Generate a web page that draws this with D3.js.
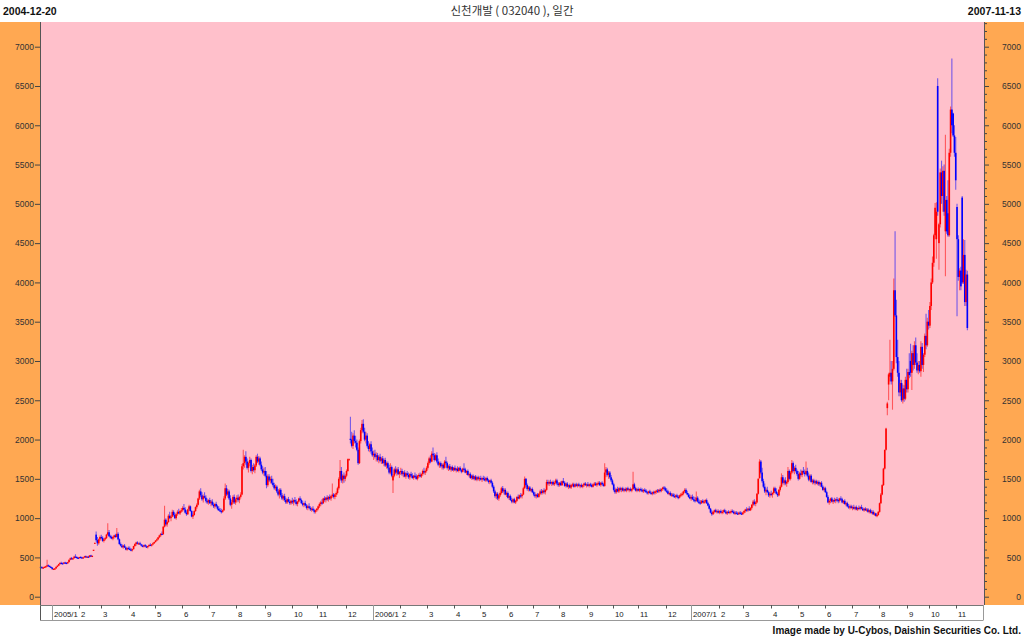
<!DOCTYPE html>
<html><head><meta charset="utf-8">
<script src="https://cdn.jsdelivr.net/npm/d3@7"></script>
<style>body{margin:0;background:#fff}svg{display:block}</style>
</head><body><svg id="c" width="1024" height="638"></svg>
<script>
// Daily bars [open, high, low, close], one array per month
const d2004_12=[[380,390,370,375],[375,385,365,370],[370,380,360,372],[372,385,365,380],[380,395,372,388],[388,470,380,400],[400,410,385,392],[392,398,375,380],[380,385,365,370]];
const d2005_01=[[370,375,345,350],[350,360,340,355],[355,365,345,360],[360,385,355,380],[380,400,375,395],[395,420,390,415],[415,440,410,430],[430,445,420,425],[425,435,415,420],[420,440,415,435],[435,445,425,430],[430,440,420,425],[425,445,420,440],[440,475,435,470],[470,500,465,490],[490,505,475,480],[480,495,470,490],[490,520,485,510],[510,540,500,505],[505,515,490,495],[495,505,485,490]];
const d2005_02=[[490,510,485,505],[505,515,495,500],[500,510,490,495],[495,505,488,500],[500,520,495,515],[515,525,500,505],[505,515,495,510],[510,520,500,505],[505,530,500,525],[525,535,510,515],[515,525,505,520],[598,598,598,598],[687,687,687,687],[790,830,700,720],[720,760,650,680],[680,740,660,730],[730,780,710,760]];
const d2005_03=[[760,790,730,750],[750,770,700,710],[710,740,690,730],[730,760,715,745],[745,800,735,790],[790,936,780,820],[820,850,760,770],[770,790,740,760],[760,780,730,740],[740,770,720,760],[760,790,740,780],[780,800,750,760],[760,873,755,800],[800,820,720,730],[730,740,660,670],[670,690,640,650],[650,670,620,630],[630,660,610,650],[650,670,620,625],[625,640,590,600],[600,630,585,620],[620,640,600,610]];
const d2005_04=[[610,640,590,600],[600,620,580,590],[590,610,575,605],[605,650,600,645],[645,680,635,670],[670,700,650,690],[690,705,665,675],[675,690,660,680],[680,700,660,665],[665,675,640,650],[650,665,630,640],[640,660,625,655],[655,670,635,640],[640,655,620,630],[630,650,615,645],[645,665,635,660],[660,680,645,650],[650,670,640,665],[665,690,655,680],[680,700,670,695]];
const d2005_05=[[695,720,690,715],[715,740,705,730],[730,760,720,755],[755,790,745,780],[780,810,760,800],[800,830,785,795],[795,900,790,890],[890,1157,880,980],[980,1000,900,920],[920,960,890,950],[950,1050,940,1030],[1030,1080,990,1000],[1000,1040,960,1020],[1020,1106,1010,1080],[1080,1100,1020,1040],[1040,1070,990,1000],[1000,1060,980,1050],[1050,1100,1030,1080],[1080,1120,1050,1060],[1060,1100,1040,1090],[1090,1130,1070,1100]];
const d2005_06=[[1100,1150,1080,1130],[1130,1180,1100,1110],[1110,1140,1060,1070],[1070,1100,1030,1050],[1050,1120,1040,1110],[1110,1170,1090,1150],[1150,1160,1080,1090],[1090,1100,1010,1020],[1020,1060,990,1040],[1040,1100,1030,1090],[1090,1150,1080,1140],[1140,1190,1120,1170],[1170,1260,1160,1250],[1250,1360,1230,1340],[1340,1380,1270,1290],[1290,1330,1220,1240],[1240,1300,1200,1280],[1280,1330,1250,1260],[1260,1290,1200,1220],[1220,1250,1180,1200],[1200,1240,1170,1230]];
const d2005_07=[[1230,1260,1180,1190],[1190,1230,1150,1210],[1210,1240,1160,1170],[1170,1200,1130,1150],[1150,1190,1120,1180],[1180,1210,1140,1150],[1150,1170,1100,1120],[1120,1150,1090,1100],[1100,1130,1080,1090],[1090,1120,1060,1080],[1080,1110,1070,1100],[1100,1280,1090,1250],[1250,1440,1230,1380],[1380,1420,1280,1300],[1300,1370,1260,1340],[1340,1360,1230,1250],[1250,1290,1150,1170],[1170,1230,1120,1200],[1200,1290,1180,1270],[1270,1300,1180,1200],[1200,1260,1170,1240]];
const d2005_08=[[1240,1290,1200,1260],[1260,1300,1210,1230],[1230,1280,1190,1270],[1270,1330,1250,1300],[1300,1690,1290,1660],[1660,1870,1620,1700],[1700,1800,1640,1780],[1780,1850,1680,1720],[1720,1760,1620,1640],[1640,1720,1580,1700],[1700,1780,1660,1740],[1740,1760,1580,1600],[1600,1680,1560,1650],[1650,1700,1590,1610],[1610,1690,1570,1670],[1670,1800,1650,1780],[1780,1820,1700,1720],[1720,1790,1680,1760],[1760,1780,1660,1680],[1680,1720,1600,1620],[1620,1660,1560,1580],[1580,1640,1540,1600]];
const d2005_09=[[1600,1650,1520,1540],[1540,1600,1380,1420],[1420,1560,1400,1530],[1530,1560,1460,1480],[1480,1530,1440,1500],[1500,1540,1430,1450],[1450,1500,1400,1420],[1420,1450,1360,1380],[1380,1430,1350,1400],[1400,1420,1320,1340],[1340,1370,1280,1300],[1300,1380,1250,1360],[1360,1380,1270,1290],[1290,1320,1230,1250],[1250,1300,1220,1280],[1280,1310,1210,1230],[1230,1260,1180,1200],[1200,1250,1180,1240],[1240,1270,1200,1210],[1210,1240,1170,1190],[1190,1230,1170,1220]];
const d2005_10=[[1220,1260,1180,1200],[1200,1240,1160,1230],[1230,1270,1190,1210],[1210,1240,1160,1180],[1180,1220,1150,1210],[1210,1260,1200,1250],[1250,1280,1220,1230],[1230,1250,1180,1190],[1190,1220,1150,1170],[1170,1200,1140,1190],[1190,1220,1150,1160],[1160,1180,1110,1130],[1130,1170,1100,1150],[1150,1190,1120,1130],[1130,1150,1090,1110],[1110,1140,1080,1120],[1120,1150,1090,1100],[1100,1120,1060,1080],[1080,1110,1060,1100],[1100,1130,1080,1120]];
const d2005_11=[[1120,1160,1100,1150],[1150,1200,1130,1180],[1180,1220,1150,1200],[1200,1240,1170,1190],[1190,1260,1180,1250],[1250,1280,1210,1230],[1230,1270,1200,1260],[1260,1290,1220,1240],[1240,1280,1210,1270],[1270,1300,1230,1250],[1250,1290,1220,1280],[1280,1440,1260,1300],[1300,1320,1250,1270],[1270,1310,1240,1300],[1300,1340,1270,1320],[1320,1400,1300,1380],[1380,1520,1360,1500],[1500,1740,1480,1600],[1600,1650,1450,1480],[1480,1560,1440,1540],[1540,1580,1450,1500],[1500,1560,1470,1540]];
const d2005_12=[[1540,1620,1520,1600],[1600,1760,1590,1750],[1750,1760,1740,1750],[2010,2290,1950,2000],[2000,2100,1900,1920],[1920,2080,1880,2050],[2050,2120,1950,1980],[1980,2050,1900,1960],[1960,2000,1850,1870],[1870,1900,1680,1700],[1700,2000,1690,1980],[1980,2150,1950,2120],[2120,2250,2080,2200],[2200,2260,2080,2100],[2100,2150,1980,2000],[2000,2100,1950,2050],[2050,2080,1900,1920],[1920,1980,1850,1880],[1880,1960,1840,1940],[1940,1980,1820,1850],[1850,1900,1780,1800]];
const d2006_01=[[1800,1860,1740,1820],[1820,1870,1760,1780],[1780,1840,1720,1800],[1800,1830,1720,1740],[1740,1800,1700,1780],[1780,1820,1710,1730],[1730,1780,1690,1760],[1760,1790,1690,1700],[1700,1760,1660,1740],[1740,1770,1650,1670],[1670,1720,1630,1700],[1700,1720,1620,1640],[1640,1680,1560,1580],[1580,1700,1560,1650],[1650,1670,1520,1540],[1480,1560,1320,1540],[1540,1640,1520,1620],[1620,1660,1560,1580],[1580,1640,1540,1620],[1620,1650,1550,1560],[1560,1600,1510,1590]];
const d2006_02=[[1590,1640,1550,1600],[1600,1630,1540,1560],[1560,1600,1520,1580],[1580,1610,1520,1530],[1530,1580,1500,1570],[1570,1600,1530,1550],[1550,1580,1500,1520],[1520,1570,1490,1560],[1560,1590,1520,1540],[1540,1570,1500,1510],[1510,1550,1490,1540],[1540,1580,1510,1530],[1530,1560,1490,1500],[1500,1550,1480,1540],[1540,1570,1510,1550],[1550,1580,1520,1530],[1530,1570,1510,1560],[1560,1620,1540,1600],[1600,1640,1560,1580],[1580,1620,1550,1600],[1600,1660,1580,1640]];
const d2006_03=[[1640,1720,1620,1700],[1700,1780,1680,1760],[1760,1800,1700,1720],[1720,1850,1710,1820],[1820,1900,1780,1800],[1800,1830,1720,1740],[1740,1820,1730,1800],[1800,1840,1700,1720],[1720,1760,1660,1680],[1680,1720,1640,1700],[1700,1720,1640,1660],[1660,1700,1620,1680],[1680,1700,1620,1640],[1640,1740,1630,1720],[1720,1780,1680,1700],[1700,1720,1620,1640],[1640,1680,1600,1660],[1660,1690,1610,1620],[1620,1660,1590,1650],[1650,1670,1600,1610],[1610,1650,1590,1640]];
const d2006_04=[[1640,1670,1600,1610],[1610,1640,1580,1630],[1630,1660,1590,1600],[1600,1650,1580,1640],[1640,1660,1600,1610],[1610,1630,1570,1590],[1590,1640,1580,1630],[1630,1700,1610,1620],[1620,1640,1570,1580],[1580,1610,1550,1600],[1600,1620,1540,1550],[1550,1580,1520,1560],[1560,1580,1500,1510],[1510,1550,1490,1540],[1540,1560,1490,1500],[1500,1540,1480,1530],[1530,1550,1480,1490],[1490,1530,1470,1520],[1520,1540,1480,1500],[1500,1530,1470,1510]];
const d2006_05=[[1510,1540,1480,1490],[1490,1520,1460,1510],[1510,1540,1480,1500],[1500,1530,1470,1480],[1480,1520,1460,1510],[1510,1530,1470,1480],[1480,1500,1440,1460],[1460,1490,1430,1480],[1480,1500,1440,1450],[1450,1470,1380,1400],[1400,1420,1320,1340],[1340,1360,1260,1280],[1280,1330,1240,1310],[1310,1330,1230,1250],[1250,1300,1220,1290],[1290,1340,1270,1320],[1320,1400,1300,1380],[1380,1410,1320,1340],[1340,1380,1300,1360],[1360,1380,1290,1300],[1300,1340,1270,1320]];
const d2006_06=[[1320,1340,1250,1260],[1260,1300,1230,1280],[1280,1300,1220,1230],[1230,1260,1190,1210],[1210,1250,1190,1240],[1240,1260,1190,1200],[1200,1230,1180,1220],[1220,1280,1210,1270],[1270,1300,1240,1250],[1250,1300,1240,1290],[1290,1320,1260,1280],[1280,1310,1250,1300],[1300,1400,1290,1380],[1380,1530,1370,1500],[1500,1510,1400,1420],[1420,1440,1350,1370],[1370,1410,1340,1390],[1390,1410,1340,1350],[1350,1380,1330,1370],[1370,1390,1320,1330]];
const d2006_07=[[1330,1350,1280,1300],[1300,1330,1260,1280],[1280,1310,1250,1300],[1300,1320,1260,1270],[1270,1320,1260,1310],[1310,1360,1290,1340],[1340,1370,1300,1320],[1320,1360,1300,1350],[1350,1380,1310,1330],[1330,1370,1300,1360],[1360,1490,1350,1460],[1460,1490,1420,1440],[1440,1480,1410,1460],[1460,1490,1430,1440],[1440,1470,1410,1460],[1460,1480,1420,1430],[1430,1470,1410,1450],[1450,1500,1430,1480],[1480,1500,1420,1440],[1440,1460,1400,1420]];
const d2006_08=[[1420,1460,1400,1450],[1450,1470,1410,1420],[1420,1480,1410,1470],[1470,1510,1440,1450],[1450,1470,1400,1410],[1410,1450,1390,1440],[1440,1460,1390,1400],[1400,1430,1370,1420],[1420,1440,1380,1390],[1390,1430,1370,1420],[1420,1450,1400,1430],[1430,1450,1390,1400],[1400,1440,1390,1430],[1430,1450,1400,1410],[1410,1440,1390,1430],[1430,1450,1400,1410],[1410,1430,1380,1420],[1420,1440,1390,1400],[1400,1430,1380,1420],[1420,1450,1400,1440],[1440,1460,1410,1420],[1420,1440,1390,1430]];
const d2006_09=[[1430,1460,1400,1410],[1410,1440,1390,1430],[1430,1450,1400,1420],[1420,1440,1390,1400],[1400,1440,1390,1430],[1430,1460,1410,1440],[1440,1460,1410,1420],[1420,1450,1400,1440],[1440,1470,1420,1450],[1450,1470,1410,1420],[1420,1460,1400,1450],[1450,1470,1420,1430],[1430,1450,1400,1410],[1410,1700,1400,1580],[1580,1650,1520,1620],[1620,1640,1530,1550],[1550,1600,1500,1580],[1580,1600,1500,1520],[1520,1550,1460,1480],[1480,1500,1420,1430]];
const d2006_10=[[1430,1450,1340,1360],[1360,1390,1310,1330],[1330,1380,1310,1370],[1370,1400,1330,1340],[1340,1390,1320,1380],[1380,1400,1340,1360],[1360,1390,1330,1380],[1380,1400,1340,1350],[1350,1380,1330,1370],[1370,1390,1340,1350],[1350,1390,1330,1380],[1380,1400,1350,1360],[1360,1380,1330,1370],[1370,1390,1340,1350],[1350,1380,1330,1370],[1370,1590,1360,1430],[1430,1450,1360,1380],[1380,1400,1340,1350],[1350,1380,1330,1370]];
const d2006_11=[[1370,1390,1340,1350],[1350,1380,1330,1370],[1370,1390,1340,1360],[1360,1380,1330,1340],[1340,1370,1320,1360],[1360,1380,1330,1350],[1350,1370,1320,1330],[1330,1350,1300,1320],[1320,1350,1300,1340],[1340,1360,1310,1320],[1320,1340,1300,1310],[1310,1340,1290,1330],[1330,1350,1300,1320],[1320,1350,1300,1340],[1340,1360,1310,1350],[1350,1370,1320,1340],[1340,1370,1320,1360],[1360,1380,1330,1350],[1350,1380,1330,1370],[1370,1400,1350,1390],[1390,1410,1360,1380],[1380,1400,1340,1350]];
const d2006_12=[[1350,1380,1320,1340],[1340,1360,1300,1310],[1310,1340,1290,1320],[1320,1340,1280,1290],[1290,1320,1270,1300],[1300,1320,1270,1280],[1280,1310,1260,1270],[1270,1300,1250,1290],[1290,1310,1260,1270],[1270,1290,1240,1260],[1260,1300,1250,1290],[1290,1320,1270,1300],[1300,1330,1280,1310],[1310,1350,1290,1340],[1340,1380,1320,1360],[1360,1380,1310,1320],[1320,1350,1290,1300],[1300,1320,1260,1270],[1270,1300,1240,1250]];
const d2007_01=[[1250,1290,1220,1270],[1270,1300,1230,1240],[1240,1280,1210,1230],[1230,1270,1200,1220],[1220,1340,1210,1260],[1260,1280,1200,1210],[1210,1240,1180,1200],[1200,1230,1170,1190],[1190,1230,1180,1220],[1220,1240,1190,1200],[1200,1230,1180,1210],[1210,1240,1190,1230],[1230,1250,1180,1190],[1190,1210,1150,1160],[1160,1180,1110,1120],[1120,1130,1060,1070],[1070,1100,1030,1050],[1050,1090,1040,1080],[1080,1110,1060,1100],[1100,1120,1070,1080],[1080,1110,1060,1090],[1090,1110,1060,1070]];
const d2007_02=[[1070,1100,1050,1090],[1090,1110,1060,1070],[1070,1100,1050,1080],[1080,1110,1060,1100],[1100,1120,1070,1080],[1080,1100,1050,1060],[1060,1090,1040,1080],[1080,1100,1060,1070],[1070,1090,1050,1080],[1080,1110,1060,1090],[1090,1110,1070,1080],[1080,1100,1050,1060],[1060,1090,1040,1070],[1070,1090,1050,1060],[1060,1080,1040,1050],[1050,1080,1040,1070],[1070,1090,1050,1060],[1060,1080,1040,1050],[1050,1080,1040,1070]];
const d2007_03=[[1070,1100,1060,1090],[1090,1120,1070,1110],[1110,1140,1080,1100],[1100,1130,1080,1120],[1120,1150,1090,1100],[1100,1140,1090,1130],[1130,1180,1110,1170],[1170,1230,1150,1210],[1210,1240,1160,1180],[1180,1220,1150,1200],[1200,1320,1190,1310],[1310,1510,1300,1500],[1510,1750,1500,1720],[1720,1740,1560,1580],[1580,1640,1450,1470],[1470,1500,1380,1400],[1400,1440,1320,1340],[1340,1380,1290,1360],[1360,1400,1320,1330],[1330,1350,1270,1290],[1290,1330,1260,1310]];
const d2007_04=[[1310,1350,1280,1300],[1300,1330,1260,1320],[1320,1400,1300,1380],[1380,1400,1320,1340],[1340,1380,1300,1310],[1310,1330,1270,1290],[1290,1370,1280,1360],[1360,1420,1340,1400],[1400,1570,1390,1520],[1520,1550,1430,1450],[1450,1500,1420,1480],[1480,1520,1420,1440],[1440,1480,1400,1460],[1460,1650,1440,1600],[1600,1620,1480,1500],[1500,1600,1480,1580],[1580,1740,1560,1700],[1700,1720,1580,1600],[1600,1660,1560,1640],[1640,1680,1580,1600],[1600,1620,1540,1560]];
const d2007_05=[[1560,1600,1480,1500],[1500,1590,1490,1570],[1570,1620,1530,1550],[1550,1610,1520,1600],[1600,1650,1560,1580],[1580,1620,1530,1560],[1560,1720,1550,1600],[1600,1640,1520,1540],[1540,1580,1470,1490],[1490,1560,1470,1540],[1540,1560,1450,1460],[1460,1500,1430,1480],[1480,1500,1430,1450],[1450,1490,1420,1470],[1470,1490,1430,1440],[1440,1480,1420,1460],[1460,1480,1410,1430],[1430,1460,1400,1450],[1450,1470,1390,1400],[1400,1420,1350,1360],[1360,1400,1340,1380]];
const d2007_06=[[1380,1400,1320,1330],[1330,1350,1260,1270],[1270,1290,1190,1200],[1200,1240,1170,1220],[1220,1260,1190,1250],[1250,1270,1200,1210],[1210,1240,1180,1230],[1230,1260,1200,1220],[1220,1250,1190,1240],[1240,1270,1210,1230],[1230,1250,1190,1220],[1220,1260,1200,1250],[1250,1280,1220,1240],[1240,1260,1190,1200],[1200,1230,1180,1220],[1220,1240,1170,1180],[1180,1210,1150,1190],[1190,1210,1140,1150],[1150,1180,1120,1140],[1140,1170,1110,1150],[1150,1170,1120,1130]];
const d2007_07=[[1130,1160,1100,1140],[1140,1170,1110,1120],[1120,1150,1100,1140],[1140,1160,1100,1110],[1110,1140,1090,1130],[1130,1160,1110,1120],[1120,1150,1100,1140],[1140,1170,1110,1120],[1120,1140,1090,1100],[1100,1130,1080,1120],[1120,1140,1090,1100],[1100,1130,1080,1110],[1110,1130,1070,1080],[1080,1110,1060,1100],[1100,1120,1060,1070],[1070,1100,1050,1080],[1080,1100,1040,1050],[1050,1080,1030,1060],[1060,1070,1020,1030],[1030,1060,1010,1040],[1040,1090,1030,1080]];
const d2007_08=[[1080,1200,1070,1190],[1190,1320,1180,1300],[1300,1430,1290,1420],[1420,1640,1410,1630],[1630,1870,1620,1870],[1870,2150,1860,2140],[2400,2480,2310,2460],[2700,2850,2500,2830],[2800,3270,2740,2850],[2850,3000,2700,2740],[2740,3000,2380,2900],[2900,4050,2880,3900],[3900,4650,3560,3580],[3580,3780,2970,3050],[3050,3270,2800,2850],[2850,3000,2550,2600],[2600,2760,2550,2720],[2720,2760,2480,2500],[2500,2700,2460,2650],[2650,2690,2480,2520],[2520,2800,2500,2760],[2760,2900,2600,2640]];
const d2007_09=[[2640,2900,2600,2860],[2860,3100,2780,2820],[3000,3220,2800,2850],[2850,3130,2630,3100],[3100,3200,2880,2950],[2950,3250,2900,3200],[3200,3300,2950,2980],[2980,3100,2850,2880],[2880,3000,2830,2950],[2950,3000,2850,2870],[2870,3250,2800,3180],[3180,3230,2900,2950],[2950,3100,2860,3080],[3080,3350,3050,3320],[3320,3600,3150,3200],[3200,3550,3180,3500],[3500,3650,3400,3450]];
const d2007_10=[[3450,3750,3420,3700],[3700,4050,3650,4000],[4000,4330,3980,4250],[4250,4620,4200,4600],[4600,5010,4550,4950],[4550,5020,4300,4900],[6500,6600,4850,4900],[4500,4760,4160,4740],[4740,5450,4700,5400],[5400,5550,5000,5100],[5100,5480,4900,5420],[5420,5500,4850,4900],[4650,5880,4080,5050],[5050,5100,4620,4650],[4880,5300,4580,4600],[4600,5700,4580,5650],[5650,6240,5600,6200],[6200,6850,5900,6000],[6150,6160,5850,5870],[5870,6000,5600,5650],[5650,5850,5180,5300]];
const d2007_11=[[4960,5000,3570,4550],[4550,4600,4020,4070],[4070,4180,3900,4150],[4150,4200,3900,3950],[5080,5100,3980,4000],[4000,4550,3980,4350],[4350,4540,3700,3750],[3750,4160,3700,4100],[4100,4150,3390,3420]];

const monthBars=[d2004_12,d2005_01,d2005_02,d2005_03,d2005_04,d2005_05,d2005_06,d2005_07,d2005_08,d2005_09,d2005_10,d2005_11,d2005_12,
 d2006_01,d2006_02,d2006_03,d2006_04,d2006_05,d2006_06,d2006_07,d2006_08,d2006_09,d2006_10,d2006_11,d2006_12,
 d2007_01,d2007_02,d2007_03,d2007_04,d2007_05,d2007_06,d2007_07,d2007_08,d2007_09,d2007_10,d2007_11];
const monthLabels=["","2005/1","2","3","4","5","6","7","8","9","10","11","12",
 "2006/1","2","3","4","5","6","7","8","9","10","11","12",
 "2007/1","2","3","4","5","6","7","8","9","10","11"];
const yTicks=[0,500,1000,1500,2000,2500,3000,3500,4000,4500,5000,5500,6000,6500,7000];
const yMinor=[100,200,300,400,600,700,800,900,1100,1200,1300,1400,1600,1700,1800,1900,2100,2200,2300,2400,2600,2700,2800,2900,3100,3200,3300,3400,3600,3700,3800,3900,4100,4200,4300,4400,4600,4700,4800,4900,5100,5200,5300,5400,5600,5700,5800,5900,6100,6200,6300,6400,6600,6700,6800,6900,7100,7200,7300];
const startDate="2004-12-20", endDate="2007-11-13";
const title="신천개발 ( 032040 ), 일간";
const footer="Image made by U-Cybos, Daishin Securities Co. Ltd.";

// ---------------- drawing ----------------
const svg=d3.select("#c");
const FONT="'Liberation Sans', Arial, sans-serif";
const P={l:40,r:984,t:22,b:605,axB:620};
const days=monthBars.flat();
const N=days.length;
const starts=[];let acc=0;monthBars.forEach(m=>{starts.push(acc);acc+=m.length;});

const x=d3.scaleLinear().domain([0,N]).range([P.l,968]);
const y=d3.scaleLinear().domain([0,7000]).range([596.7,46.7]);

svg.append("rect").attr("x",0).attr("y",0).attr("width",1024).attr("height",638).attr("fill","#fff");
svg.append("rect").attr("x",0).attr("y",P.t).attr("width",P.l).attr("height",P.b-P.t).attr("fill","#ffa852");
svg.append("rect").attr("x",P.r).attr("y",P.t).attr("width",1024-P.r).attr("height",P.b-P.t).attr("fill","#ffa852");
svg.append("rect").attr("x",P.l).attr("y",P.t).attr("width",P.r-P.l).attr("height",P.b-P.t).attr("fill","#ffc0cb");

// candles
const col=d=>d[3]>=d[0]?"#ff0000":"#0000ff";
const cg=svg.append("g");
cg.selectAll("line").data(days).join("line")
 .attr("x1",(d,i)=>x(i+0.5)).attr("x2",(d,i)=>x(i+0.5))
 .attr("y1",d=>y(d[1])).attr("y2",d=>y(d[2]))
 .attr("stroke",col).attr("stroke-opacity",0.55).attr("stroke-width",1.1);
cg.selectAll("rect").data(days).join("rect")
 .attr("x",(d,i)=>x(i+0.5)-0.8).attr("width",1.6)
 .attr("y",d=>y(Math.max(d[0],d[3])))
 .attr("height",d=>Math.max(1.2,y(Math.min(d[0],d[3]))-y(Math.max(d[0],d[3]))))
 .attr("fill",col);

// y axes
const axL=svg.append("g").attr("transform",`translate(${P.l},0)`)
 .call(d3.axisLeft(y).tickValues(yTicks).tickSize(5).tickPadding(1).tickFormat(d3.format("d")));
const axR=svg.append("g").attr("transform",`translate(${P.r},0)`)
 .call(d3.axisRight(y).tickValues(yTicks).tickSize(5).tickPadding(1).tickFormat(d3.format("d")));
axR.selectAll("text").attr("text-anchor","end").attr("x",37);
const axRm=svg.append("g").attr("transform",`translate(${P.r},0)`)
 .call(d3.axisRight(y).tickValues(yMinor).tickSize(3).tickFormat(""));
[axL,axR,axRm].forEach(a=>{a.select(".domain").remove();a.selectAll("line").attr("stroke","#444");
 a.selectAll("text").attr("font-family",FONT).attr("font-size","8.5px").attr("fill","#333");});
svg.append("line").attr("x1",P.l+0.5).attr("x2",P.l+0.5).attr("y1",P.t).attr("y2",P.axB).attr("stroke","#555");
svg.append("line").attr("x1",P.r+0.5).attr("x2",P.r+0.5).attr("y1",P.t).attr("y2",P.b).attr("stroke","#555");

// bottom date axis
svg.append("line").attr("x1",P.l).attr("x2",983).attr("y1",P.b+0.5).attr("y2",P.b+0.5).attr("stroke","#777");
svg.append("line").attr("x1",P.l).attr("x2",983.5).attr("y1",P.axB+0.5).attr("y2",P.axB+0.5).attr("stroke","#999");
svg.append("line").attr("x1",983.5).attr("x2",983.5).attr("y1",P.b).attr("y2",P.axB).attr("stroke","#999");
const mg=svg.append("g");
monthLabels.forEach((lab,k)=>{
 if(!lab) return;
 const xv=Math.round(x(starts[k]))+0.5;
 const year=lab.indexOf("/")>=0;
 mg.append("line").attr("x1",xv).attr("x2",xv).attr("y1",P.b).attr("y2",year?P.axB:P.b+3.5)
   .attr("stroke",year?"#999":"#555");
 mg.append("text").attr("x",xv+1.5).attr("y",617).text(lab)
   .attr("font-family",FONT).attr("font-size","7.8px").attr("fill","#222");
});

// header & footer
svg.append("text").attr("x",3).attr("y",15).text(startDate)
 .attr("font-family",FONT).attr("font-weight","bold").attr("font-size","10.5px").attr("fill","#111");
svg.append("text").attr("x",1021).attr("y",15).attr("text-anchor","end").text(endDate)
 .attr("font-family",FONT).attr("font-weight","bold").attr("font-size","10.5px").attr("fill","#111");
svg.append("text").attr("x",512).attr("y",15).attr("text-anchor","middle").text(title)
 .attr("font-family","'Noto Sans CJK KR', sans-serif").attr("font-size","11.5px").attr("fill","#333");
svg.append("text").attr("x",1021).attr("y",634).attr("text-anchor","end").text(footer)
 .attr("font-family",FONT).attr("font-weight","bold").attr("font-size","10px").attr("fill","#111");
</script></body></html>
